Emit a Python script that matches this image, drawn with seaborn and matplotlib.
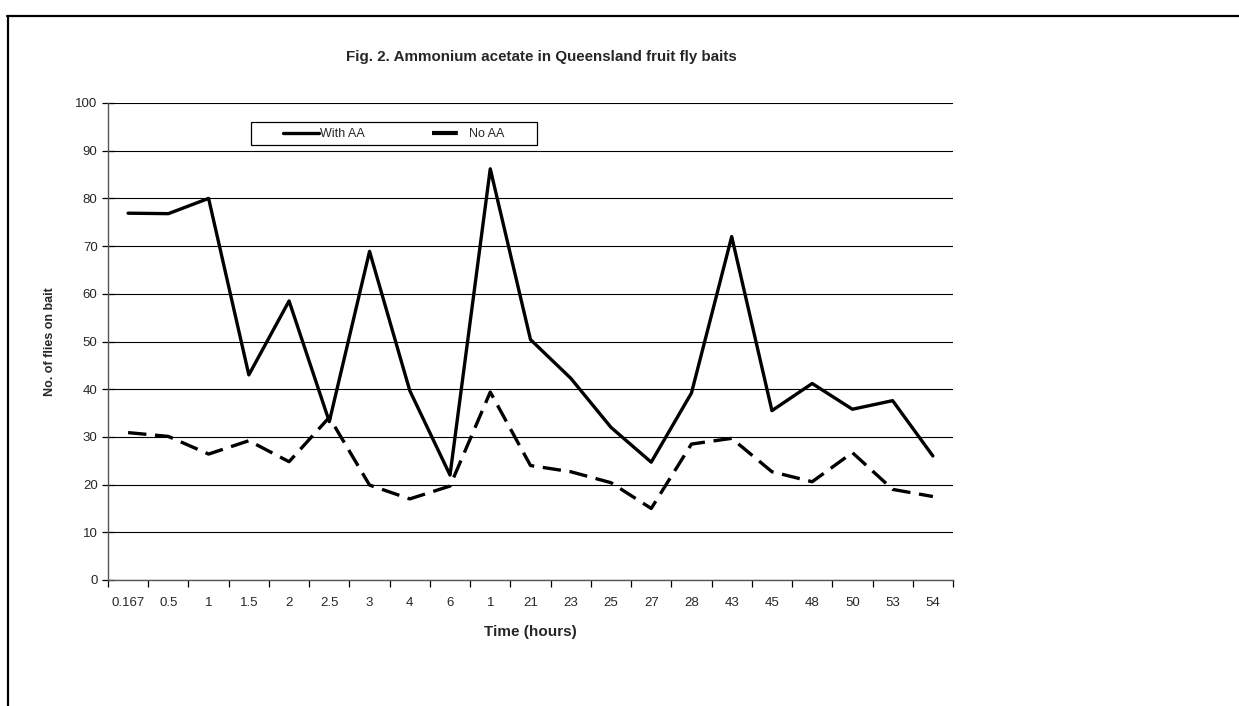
import numpy as np
import pandas as pd
import matplotlib
matplotlib.use("Agg")
import matplotlib.pyplot as plt
from matplotlib.lines import Line2D
from matplotlib.patches import Rectangle
from matplotlib.ticker import FixedLocator, NullFormatter
import seaborn as sns

time_labels = ["0.167", "0.5", "1", "1.5", "2", "2.5", "3", "4", "6", "1",
               "21", "23", "25", "27", "28", "43", "45", "48", "50", "53", "54"]
with_aa = [76.9, 76.8, 80.0, 43.0, 58.5, 33.2, 68.9, 39.7, 22.0, 86.2,
           50.4, 42.3, 32.0, 24.7, 39.2, 72.0, 35.5, 41.2, 35.8, 37.6, 26.0]
no_aa = [30.9, 30.1, 26.4, 29.2, 24.8, 34.1, 19.9, 17.0, 19.7, 39.4,
         24.0, 22.7, 20.4, 15.0, 28.5, 29.7, 22.7, 20.6, 26.7, 19.0, 17.5]
series_names = ["With AA", "No AA"]
y_ticks = list(range(0, 101, 10))

sns.set_theme(style="white")
plt.rcParams['font.family'] = ['Liberation Sans', 'DejaVu Sans']

W, H = 1239, 706
fig = plt.figure(figsize=(W / 100, H / 100), dpi=100)
ax = fig.add_axes([108 / W, 1 - 580 / H, (953 - 108) / W, (580 - 103) / H])

pos = np.arange(len(time_labels))
ax.yaxis.grid(True, color="black", linewidth=0.8)
ax.set_axisbelow(True)

sns.lineplot(x=pos, y=with_aa, ax=ax, color="black", linewidth=2.4,
             label=series_names[0])
sns.lineplot(x=pos, y=no_aa, ax=ax, color="black", linewidth=2.4,
             dashes=False, label=series_names[1], linestyle=(0, (5.5, 2.6)))

ax.set_xlim(-0.5, len(time_labels) - 0.5)
ax.set_ylim(0, 100)
ax.set_yticks(y_ticks)
ax.set_yticklabels([str(v) for v in y_ticks], fontsize=9.5)

ax.xaxis.set_major_locator(FixedLocator(np.arange(-0.5, len(time_labels), 1.0)))
ax.xaxis.set_major_formatter(NullFormatter())
ax.xaxis.set_minor_locator(FixedLocator(pos))
ax.set_xticklabels(time_labels, minor=True, fontsize=9.5)
ax.tick_params(axis="x", which="major", direction="out", length=5, width=0.9,
               color="black", bottom=True)
ax.tick_params(axis="x", which="minor", length=0, pad=12)
ax.tick_params(axis="y", direction="inout", length=9, width=0.9,
               color="black", left=True, pad=3)

for s in ["top", "right"]:
    ax.spines[s].set_visible(False)
for s in ["left", "bottom"]:
    ax.spines[s].set_color("#555555")
    ax.spines[s].set_linewidth(1.0)

ax.set_xlabel("Time (hours)", fontsize=11, fontweight="bold", labelpad=12)
ax.set_ylabel("No. of flies on bait", fontsize=9, fontweight="bold", labelpad=14)
fig.text(541 / W, 1 - 57 / H,
         "Fig. 2. Ammonium acetate in Queensland fruit fly baits",
         ha="center", va="center", fontsize=10.9, fontweight="bold")

# legend box and entries
box = Rectangle((251 / W, 1 - 145 / H), (537 - 251) / W, 23 / H,
                transform=fig.transFigure, facecolor="white",
                edgecolor="black", linewidth=0.9, zorder=5, clip_on=False)
ax.add_artist(box)
leg = ax.legend(loc="center left", ncol=2,
                bbox_to_anchor=(283 / W, 1 - 134 / H),
                bbox_transform=fig.transFigure, borderaxespad=0, borderpad=0,
                fontsize=9, frameon=False, handlelength=2.9,
                handletextpad=0.05, columnspacing=5.4)
leg.set_zorder(6)
leg.legend_handles[1].set_linestyle((0, (6.2, 12)))
leg.legend_handles[1].set_linewidth(3.0)

# outer frame of the chart area
fig.add_artist(Line2D([7 / W, 1.0], [1 - 16 / H, 1 - 16 / H],
                      transform=fig.transFigure, color="black", linewidth=1.6))
fig.add_artist(Line2D([8 / W, 8 / W], [1 - 16 / H, 0.0],
                      transform=fig.transFigure, color="black", linewidth=1.6))

fig.savefig("out.png", dpi=100)
